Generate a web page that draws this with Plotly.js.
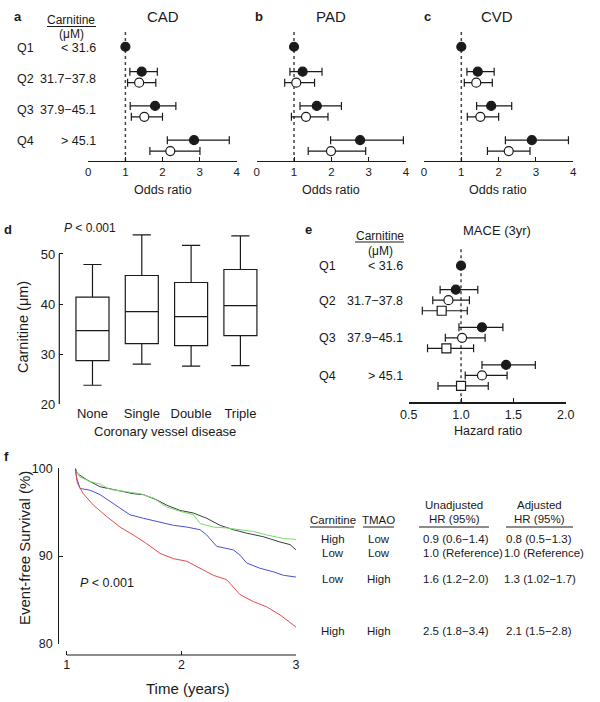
<!DOCTYPE html>
<html>
<head>
<meta charset="utf-8">
<script src="https://cdn.plot.ly/plotly-3.0.1.min.js"></script>
<style>body{margin:0;background:#fff}</style>
</head>
<body>
<div id="fig" style="width:600px;height:702px"></div>
<script>
// ---- data ----
var quartiles = ['Q1', 'Q2', 'Q3', 'Q4'];
var carnRanges = ['< 31.6', '31.7\u221237.8', '37.9\u221245.1', '> 45.1'];

// odds ratios, filled = unadjusted (Q1..Q4), open = adjusted (Q2..Q4)
var cadOR = [1, 1.44, 1.80, 2.85], cadLo = [1, 1.12, 1.13, 2.13], cadHi = [1, 1.86, 2.36, 3.80];
var cadAdjOR = [1.37, 1.51, 2.21], cadAdjLo = [1.06, 1.16, 1.66], cadAdjHi = [1.82, 2.00, 3.01];
var padOR = [1, 1.23, 1.61, 2.77], padLo = [1, 0.89, 1.16, 1.98], padHi = [1, 1.75, 2.27, 3.93];
var padAdjOR = [1.06, 1.32, 1.99], padAdjLo = [0.75, 0.93, 1.38], padAdjHi = [1.55, 1.91, 2.92];
var cvdOR = [1, 1.44, 1.80, 2.89], cvdLo = [1, 1.15, 1.41, 2.18], cvdHi = [1, 1.88, 2.35, 3.87];
var cvdAdjOR = [1.40, 1.51, 2.27], cvdAdjLo = [1.08, 1.16, 1.70], cvdAdjHi = [1.83, 2.00, 2.84];

// box plot (carnitine by vessel disease)
var vessels = ['None', 'Single', 'Double', 'Triple'];
var boxLow = [23.8, 28.0, 27.6, 27.7];
var boxQ1 = [28.7, 32.1, 31.7, 33.7];
var boxMed = [34.7, 38.5, 37.5, 39.7];
var boxQ3 = [41.4, 45.7, 44.3, 46.9];
var boxHigh = [47.9, 53.8, 51.7, 53.6];

// MACE hazard ratios
var maceHR = [1, 0.95, 1.20, 1.43], maceLo = [1, 0.80, 0.98, 1.20], maceHi = [1, 1.16, 1.40, 1.71];
var maceHR2 = [0.88, 1.01, 1.20], maceLo2 = [0.73, 0.85, 1.04], maceHi2 = [1.08, 1.23, 1.44];
var maceHR3 = [0.815, 0.86, 1.00], maceLo3 = [0.63, 0.68, 0.78], maceHi3 = [1.06, 1.12, 1.26];

// Kaplan-Meier curves
var kmLowLowT = [1.076,1.093,1.174,1.291,1.436,1.581,1.669,1.785,1.872,1.988,2.105,2.221,2.337,2.453,2.570,2.715,2.860,2.948,3.0];
var kmLowLowS = [100,99.4,98.7,97.9,97.5,97.1,97.0,96.4,95.8,95.2,94.9,94.3,93.5,93.0,92.6,92.2,91.6,91.3,90.7];
var kmHighLowT = [1.076,1.116,1.203,1.291,1.378,1.523,1.640,1.756,1.872,1.988,2.105,2.163,2.279,2.395,2.512,2.628,2.744,2.890,3.0];
var kmHighLowS = [99.8,99.0,98.5,98.2,97.6,97.3,97.1,96.6,95.6,95.1,94.7,93.7,93.3,93.2,93.0,92.8,92.4,92.0,91.9];
var kmLowHighT = [1.076,1.087,1.116,1.203,1.291,1.378,1.465,1.552,1.669,1.814,1.930,2.047,2.163,2.221,2.308,2.453,2.512,2.570,2.686,2.802,2.890,3.0];
var kmLowHighS = [99.9,98.9,97.7,97.5,97.0,96.2,95.4,94.7,94.3,93.9,93.5,93.3,93.0,92.4,91.1,90.7,90.1,89.2,88.6,88.2,87.8,87.6];
var kmHighHighT = [1.076,1.093,1.145,1.233,1.349,1.465,1.581,1.698,1.814,1.930,2.047,2.163,2.279,2.395,2.453,2.512,2.628,2.744,2.860,2.919,3.0];
var kmHighHighS = [99.8,98.3,97.1,95.8,94.5,93.3,92.4,91.4,90.3,89.7,89.4,88.6,87.8,87.3,86.5,85.6,84.8,84.2,83.3,82.7,81.9];

// table
var tabCarn = ['High', 'Low', 'Low', 'High'];
var tabTmao = ['Low', 'Low', 'High', 'High'];
var tabUnadj = ['0.9 (0.6\u22121.4)', '1.0 (Reference)', '1.6 (1.2\u22122.0)', '2.5 (1.8\u22123.4)'];
var tabAdj = ['0.8 (0.5\u22121.3)', '1.0 (Reference)', '1.3 (1.02\u22121.7)', '2.1 (1.5\u22122.8)'];

// ---- layout helpers ----
var W = 600, H = 702;
var FONT = 'Liberation Sans, Arial, sans-serif';
function px(x) { return x / W; }
function py(y) { return 1 - y / H; }
var INK = '#1a1a1a';

// row positions (axis units) for forest panels
var rowsABC = [0.27, 1, 2, 3], offABC = 0.32;
var rowsE = [0.362, 1, 2, 3], offE = 0.28;

function sub(a, b) { return a.map(function (v, i) { return v - b[i]; }); }

function forest(xa, ya, est, lo, hi, rows, symbol, fill) {
  return {
    type: 'scatter', mode: 'markers', x: est, y: rows, xaxis: xa, yaxis: ya,
    marker: { symbol: symbol, size: 9, color: fill, line: { color: INK, width: 1.2 } },
    error_x: { type: 'data', symmetric: false, array: sub(hi, est), arrayminus: sub(est, lo),
      color: INK, thickness: 1.2, width: 4 },
    cliponaxis: false, showlegend: false, hoverinfo: 'skip'
  };
}
function shift(rows, d) { return rows.slice(1).map(function (r) { return r + d; }); }

var data = [];
[['x', 'y', cadOR, cadLo, cadHi, cadAdjOR, cadAdjLo, cadAdjHi],
 ['x2', 'y2', padOR, padLo, padHi, padAdjOR, padAdjLo, padAdjHi],
 ['x3', 'y3', cvdOR, cvdLo, cvdHi, cvdAdjOR, cvdAdjLo, cvdAdjHi]].forEach(function (p) {
  data.push(forest(p[0], p[1], p[5], p[6], p[7], shift(rowsABC, offABC), 'circle', '#fff'));
  data.push(forest(p[0], p[1], p[2], p[3], p[4], rowsABC, 'circle', INK));
});

data.push({
  type: 'box', x: vessels, q1: boxQ1, median: boxMed, q3: boxQ3,
  lowerfence: boxLow, upperfence: boxHigh, xaxis: 'x4', yaxis: 'y4',
  width: 0.67, whiskerwidth: 0.55, line: { color: INK, width: 1.2 },
  fillcolor: 'rgba(0,0,0,0)', boxpoints: false, showlegend: false, hoverinfo: 'skip'
});

data.push(forest('x5', 'y5', maceHR3, maceLo3, maceHi3, shift(rowsE, 2 * offE), 'square', '#fff'));
data.push(forest('x5', 'y5', maceHR2, maceLo2, maceHi2, shift(rowsE, offE), 'circle', '#fff'));
data.push(forest('x5', 'y5', maceHR, maceLo, maceHi, rowsE, 'circle', INK));

[[kmLowLowT, kmLowLowS, '#3d3d3d'], [kmHighLowT, kmHighLowS, '#74dd6e'],
 [kmLowHighT, kmLowHighS, '#4a4ed8'], [kmHighHighT, kmHighHighS, '#e8494b']].forEach(function (k) {
  data.push({ type: 'scatter', mode: 'lines', x: k[0], y: k[1], xaxis: 'x6', yaxis: 'y6',
    line: { color: k[2], width: 1 }, cliponaxis: false, showlegend: false, hoverinfo: 'skip' });
});

function xfor(dom, anchor) {
  return { domain: dom, range: [0, 4], anchor: anchor, showline: true, linecolor: INK, linewidth: 1.2,
    ticks: 'inside', ticklen: 4, tickcolor: INK, tickvals: [0, 1, 2, 3, 4], showgrid: false,
    zeroline: false, tickfont: { size: 11.5, color: INK } };
}
var yDomABC = [py(161), py(31)];
var yHidden = { domain: yDomABC, range: [3.61, -0.19], visible: false };

// panel f: x domain starts at the y-axis line (59.3px); t=1 sits at 66.7px
var fPxPerYear = (296 - 66.7) / 2;
var fRangeStart = 1 - (66.7 - 59.3) / fPxPerYear;

var layout = {
  width: W, height: H, margin: { l: 0, r: 0, t: 0, b: 0 },
  paper_bgcolor: '#fff', plot_bgcolor: 'rgba(0,0,0,0)',
  font: { family: FONT, color: INK }, showlegend: false,
  xaxis: xfor([px(88.3), px(236.7)], 'y'),
  xaxis2: xfor([px(256.7), px(406)], 'y2'),
  xaxis3: xfor([px(424), px(573.3)], 'y3'),
  yaxis: Object.assign({ anchor: 'x' }, yHidden),
  yaxis2: Object.assign({ anchor: 'x2' }, yHidden),
  yaxis3: Object.assign({ anchor: 'x3' }, yHidden),
  xaxis4: { domain: [px(59.3), px(270)], range: [-0.673, 3.6], anchor: 'y4', type: 'category',
    showline: false, ticks: '', showgrid: false, zeroline: false, tickfont: { size: 13, color: INK } },
  yaxis4: { domain: [py(404.3), py(228.9)], range: [20, 55], anchor: 'x4', showline: false,
    ticks: 'inside', ticklen: 4, tickcolor: INK, tickvals: [20, 30, 40, 50], showgrid: false,
    zeroline: false, ticklabelstandoff: 3, tickfont: { size: 13, color: INK } },
  xaxis5: { domain: [px(408.7), px(565.7)], range: [0.5, 2.0], anchor: 'y5', showline: true,
    linecolor: INK, linewidth: 1.2, ticks: 'inside', ticklen: 4, tickcolor: INK,
    tickvals: [0.5, 1, 1.5, 2], tickformat: '.1f', showgrid: false, zeroline: false,
    tickfont: { size: 12.5, color: INK } },
  yaxis5: { domain: [py(402.3), py(248)], range: [3.995, -0.109], anchor: 'x5', visible: false },
  xaxis6: { domain: [px(59.3), px(296)], range: [fRangeStart, 3], anchor: 'free', position: py(655),
    showline: false, ticks: 'inside', ticklen: 4, tickcolor: INK,
    tickvals: [1, 2, 3], showgrid: false, zeroline: false, tickfont: { size: 12.5, color: INK } },
  yaxis6: { domain: [py(643.7), py(468.3)], range: [80, 100], anchor: 'x6',
    showline: true, linecolor: INK, linewidth: 1.2, ticks: 'inside', ticklen: 4, tickcolor: INK,
    tickvals: [80, 90, 100], showgrid: false, zeroline: false, ticklabelstandoff: 3,
    tickfont: { size: 12.5, color: INK } },
  shapes: [],
  annotations: []
};

// reference lines, d y-axis line, f x-axis line
['x', 'x2', 'x3', 'x5'].forEach(function (xa) {
  var ya = xa.replace('x', 'y');
  layout.shapes.push({ type: 'line', xref: xa, yref: ya + ' domain', x0: 1, x1: 1, y0: 0, y1: 1,
    line: { color: '#444', width: 1.5, dash: '3px,3px' }, layer: 'below' });
});
layout.shapes.push({ type: 'line', xref: 'x4 domain', yref: 'y4', x0: 0, x1: 0, y0: 20, y1: 50,
  line: { color: INK, width: 1.2 } });
layout.shapes.push({ type: 'line', xref: 'x6', yref: 'paper', x0: 1, x1: 3, y0: py(655), y1: py(655),
  line: { color: INK, width: 1.2 } });

function hline(x0, x1, y) {
  layout.shapes.push({ type: 'line', xref: 'paper', yref: 'paper', x0: px(x0), x1: px(x1),
    y0: py(y), y1: py(y), line: { color: INK, width: 1 } });
}
function txt(x, y, text, size, xa, extra) {
  var a = { x: px(x), y: py(y), xref: 'paper', yref: 'paper', text: text, showarrow: false,
    xanchor: xa || 'center', yanchor: 'middle', font: { size: size, color: INK, family: FONT } };
  return layout.annotations.push(Object.assign(a, extra || {}));
}

// panel letters
[['a', 18, 17], ['b', 259, 17], ['c', 427, 17], ['d', 8, 229], ['e', 308, 229], ['f', 6, 457]].forEach(function (l) {
  txt(l[1], l[2], '<b>' + l[0] + '</b>', 13);
});
// titles a-c
txt(163, 17, 'CAD', 15); txt(331, 17, 'PAD', 15); txt(497, 17, 'CVD', 15);
txt(163, 190, 'Odds ratio', 12.5); txt(331, 190, 'Odds ratio', 12.5); txt(498, 190, 'Odds ratio', 12.5);

// quartile labels a
txt(71, 20, 'Carnitine', 12); hline(47, 96, 26.5); txt(71, 34, '(\u03bcM)', 12);
var qyA = [48, 79, 110, 141];
quartiles.forEach(function (q, i) {
  txt(15, qyA[i], q, 12.5, 'left');
  txt(98, qyA[i], carnRanges[i].replace('<', '&lt;').replace('>', '&gt;'), 12.5, 'right');
});

// panel d text
txt(62, 228, '<i>P</i> &lt; 0.001', 12, 'left');
txt(23, 327, 'Carnitine (\u03bcm)', 14.5, 'center', { textangle: -90 });
txt(165, 431, 'Coronary vessel disease', 13);

// panel e text
txt(497, 230, 'MACE (3yr)', 13);
txt(488, 431, 'Hazard ratio', 12.5);
txt(380, 236, 'Carnitine', 12); hline(355, 404, 242); txt(380, 251, '(\u03bcM)', 12);
var qyE = [266, 301, 338, 376];
quartiles.forEach(function (q, i) {
  txt(317, qyE[i], q, 12.5, 'left');
  txt(405, qyE[i], carnRanges[i].replace('<', '&lt;').replace('>', '&gt;'), 12.5, 'right');
});

// panel f text
txt(24, 548, 'Event-free Survival (%)', 15, 'center', { textangle: -90 });
txt(188, 688, 'Time (years)', 15);
txt(78, 583, '<i>P</i> &lt; 0.001', 12.5, 'left');

// table
txt(454, 505, 'Unadjusted', 11.5); txt(454, 519, 'HR (95%)', 11.5);
txt(539, 505, 'Adjusted', 11.5); txt(539, 519, 'HR (95%)', 11.5);
txt(332.7, 520, 'Carnitine', 11.5); txt(378.7, 520, 'TMAO', 11.5);
hline(310, 354, 527); hline(363, 394, 527); hline(419, 489, 527); hline(506, 573, 527);
var rowY = [539, 553, 579, 631];
var adjX = [504, 502, 501.7, 504];
rowY.forEach(function (y, i) {
  txt(332.7, y, tabCarn[i], 11.5);
  txt(378.7, y, tabTmao[i], 11.5);
  txt(420.7, y, tabUnadj[i], 11.5, 'left');
  txt(adjX[i], y, tabAdj[i], 11.5, 'left');
});

Plotly.newPlot('fig', data, layout, { staticPlot: true });
</script>
</body>
</html>
